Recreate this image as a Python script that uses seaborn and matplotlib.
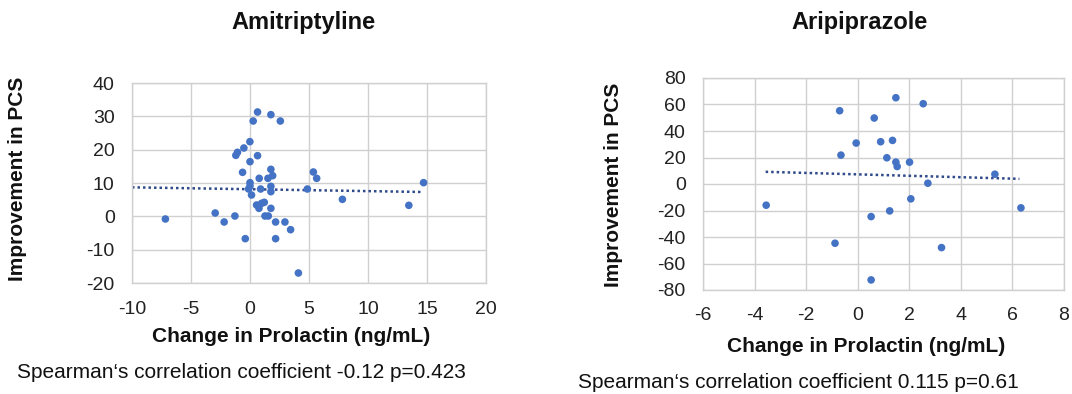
import matplotlib
matplotlib.use("Agg")
import matplotlib.pyplot as plt
import seaborn as sns
import pandas as pd
import numpy as np

# ---------------- data ----------------
ami_x = [-7.17, 0.64, 1.77, 0.27, 2.57, -0.01, -0.52, -1.06, -1.20, 0.64,
         0.00, -0.63, 1.77, 5.37, 5.65, 0.78, 1.52, 1.92, 0.00, 14.71,
         0.00, -0.12, 0.90, 1.77, 1.77, 4.86, 0.13, 7.83, 1.21, 0.98,
         0.56, 0.76, 1.77, 13.46, -2.95, -1.28, 1.27, 1.55, -2.19, 2.17,
         2.96, 3.44, -0.40, 2.17, 4.10]
ami_y = [-0.8, 31.3, 30.5, 28.6, 28.6, 22.4, 20.5, 19.2, 18.3, 18.2,
         16.4, 13.2, 14.1, 13.3, 11.4, 11.4, 11.4, 12.2, 10.1, 10.1,
         9.1, 8.2, 8.2, 9.0, 7.4, 8.2, 6.4, 5.1, 4.2, 3.9,
         3.4, 2.4, 2.4, 3.3, 1.0, 0.1, 0.1, 0.1, -1.7, -1.7,
         -1.7, -4.0, -6.7, -6.7, -17.0]
ami_trend_x = [-10.0, 14.7]
ami_trend_y = [8.7, 7.3]

ari_x = [-3.55, -0.70, -0.65, -0.88, 0.64, -0.06, 0.52, 0.52, 0.89, 1.35,
         1.48, 1.13, 1.48, 1.53, 1.24, 2.01, 2.06, 2.54, 2.72, 3.25,
         5.32, 6.33]
ari_y = [-16.0, 55.3, 21.8, -44.7, 49.8, 30.9, -24.6, -72.4, 31.9, 32.9,
         65.1, 19.8, 16.5, 13.2, -20.3, 16.5, -11.2, 60.6, 0.6, -48.0,
         7.4, -18.0]
ari_trend_x = [-3.57, 6.27]
ari_trend_y = [9.2, 3.9]

titles = ["Amitriptyline", "Aripiprazole"]
xlabel = "Change in Prolactin (ng/mL)"
ylabel = "Improvement in PCS"
notes = ["Spearman\u2018s correlation coefficient -0.12 p=0.423",
         "Spearman\u2018s correlation coefficient 0.115 p=0.61"]
ami_xticks = [-10, -5, 0, 5, 10, 15, 20]
ami_yticks = [-20, -10, 0, 10, 20, 30, 40]
ari_xticks = [-6, -4, -2, 0, 2, 4, 6, 8]
ari_yticks = [-80, -60, -40, -20, 0, 20, 40, 60, 80]

# ---------------- style ----------------
sns.set_theme(style="white")
plt.rcParams['font.family'] = ['Liberation Sans', 'DejaVu Sans']

W, H = 1072, 394
fig = plt.figure(figsize=(W / 100, H / 100), dpi=100)

def px_axes(x0, y0, x1, y1):
    return fig.add_axes([x0 / W, 1 - y1 / H, (x1 - x0) / W, (y1 - y0) / H])

dot_color = "#4472C4"
trend_color = "#2F4A8A"
grid_color = "#D0D0D0"
text_color = "#111111"

panels = [
    dict(ax=px_axes(132, 83, 486, 283), x=ami_x, y=ami_y, tx=ami_trend_x, ty=ami_trend_y,
         xt=ami_xticks, yt=ami_yticks, title=titles[0], note=notes[0], xpad=13,
         title_xy=(303, 22), xl_xy=(291, 337), yl_xy=(18, 179), note_xy=(17, 372)),
    dict(ax=px_axes(703, 78, 1064, 290), x=ari_x, y=ari_y, tx=ari_trend_x, ty=ari_trend_y,
         xt=ari_xticks, yt=ari_yticks, title=titles[1], note=notes[1], xpad=12,
         title_xy=(860, 22), xl_xy=(866, 347), yl_xy=(613, 185), note_xy=(578, 383)),
]

for p in panels:
    ax = p["ax"]
    df = pd.DataFrame({"x": p["x"], "y": p["y"]})
    tdf = pd.DataFrame({"x": p["tx"], "y": p["ty"]})
    sns.lineplot(data=tdf, x="x", y="y", ax=ax, color=trend_color,
                 linestyle=(0, (1, 1.2)), linewidth=1.8, zorder=2)
    sns.scatterplot(data=df, x="x", y="y", ax=ax, color=dot_color, s=30,
                    edgecolor="none", zorder=3)
    ax.set_xlim(p["xt"][0], p["xt"][-1])
    ax.set_ylim(p["yt"][0], p["yt"][-1])
    ax.set_xticks(p["xt"])
    ax.set_yticks(p["yt"])
    ax.set_xticklabels([str(v) for v in p["xt"]])
    ax.set_yticklabels([str(v) for v in p["yt"]])
    ax.grid(True, color=grid_color, linewidth=1.0)
    ax.set_axisbelow(True)
    for s in ax.spines.values():
        s.set_visible(True)
        s.set_color(grid_color)
        s.set_linewidth(1.0)
    ax.tick_params(axis="both", length=0, labelsize=14, colors="#222222")
    ax.tick_params(axis="x", pad=p["xpad"])
    ax.tick_params(axis="y", pad=12.5)
    ax.set_xlabel("")
    ax.set_ylabel("")
    tx, ty = p["title_xy"]
    fig.text(tx / W, 1 - ty / H, p["title"], ha="center", va="center",
             fontsize=17, fontweight="bold", color=text_color)
    lx, ly = p["xl_xy"]
    fig.text(lx / W, 1 - ly / H, xlabel, ha="center", va="center",
             fontsize=15, fontweight="bold", color=text_color)
    yx, yy = p["yl_xy"]
    fig.text(yx / W, 1 - yy / H, ylabel, ha="center", va="center", rotation=90,
             fontsize=15, fontweight="bold", color=text_color)
    nx, ny = p["note_xy"]
    fig.text(nx / W, 1 - ny / H, p["note"], ha="left", va="center",
             fontsize=15, color=text_color)

fig.savefig("out.png", dpi=100, facecolor="white")
